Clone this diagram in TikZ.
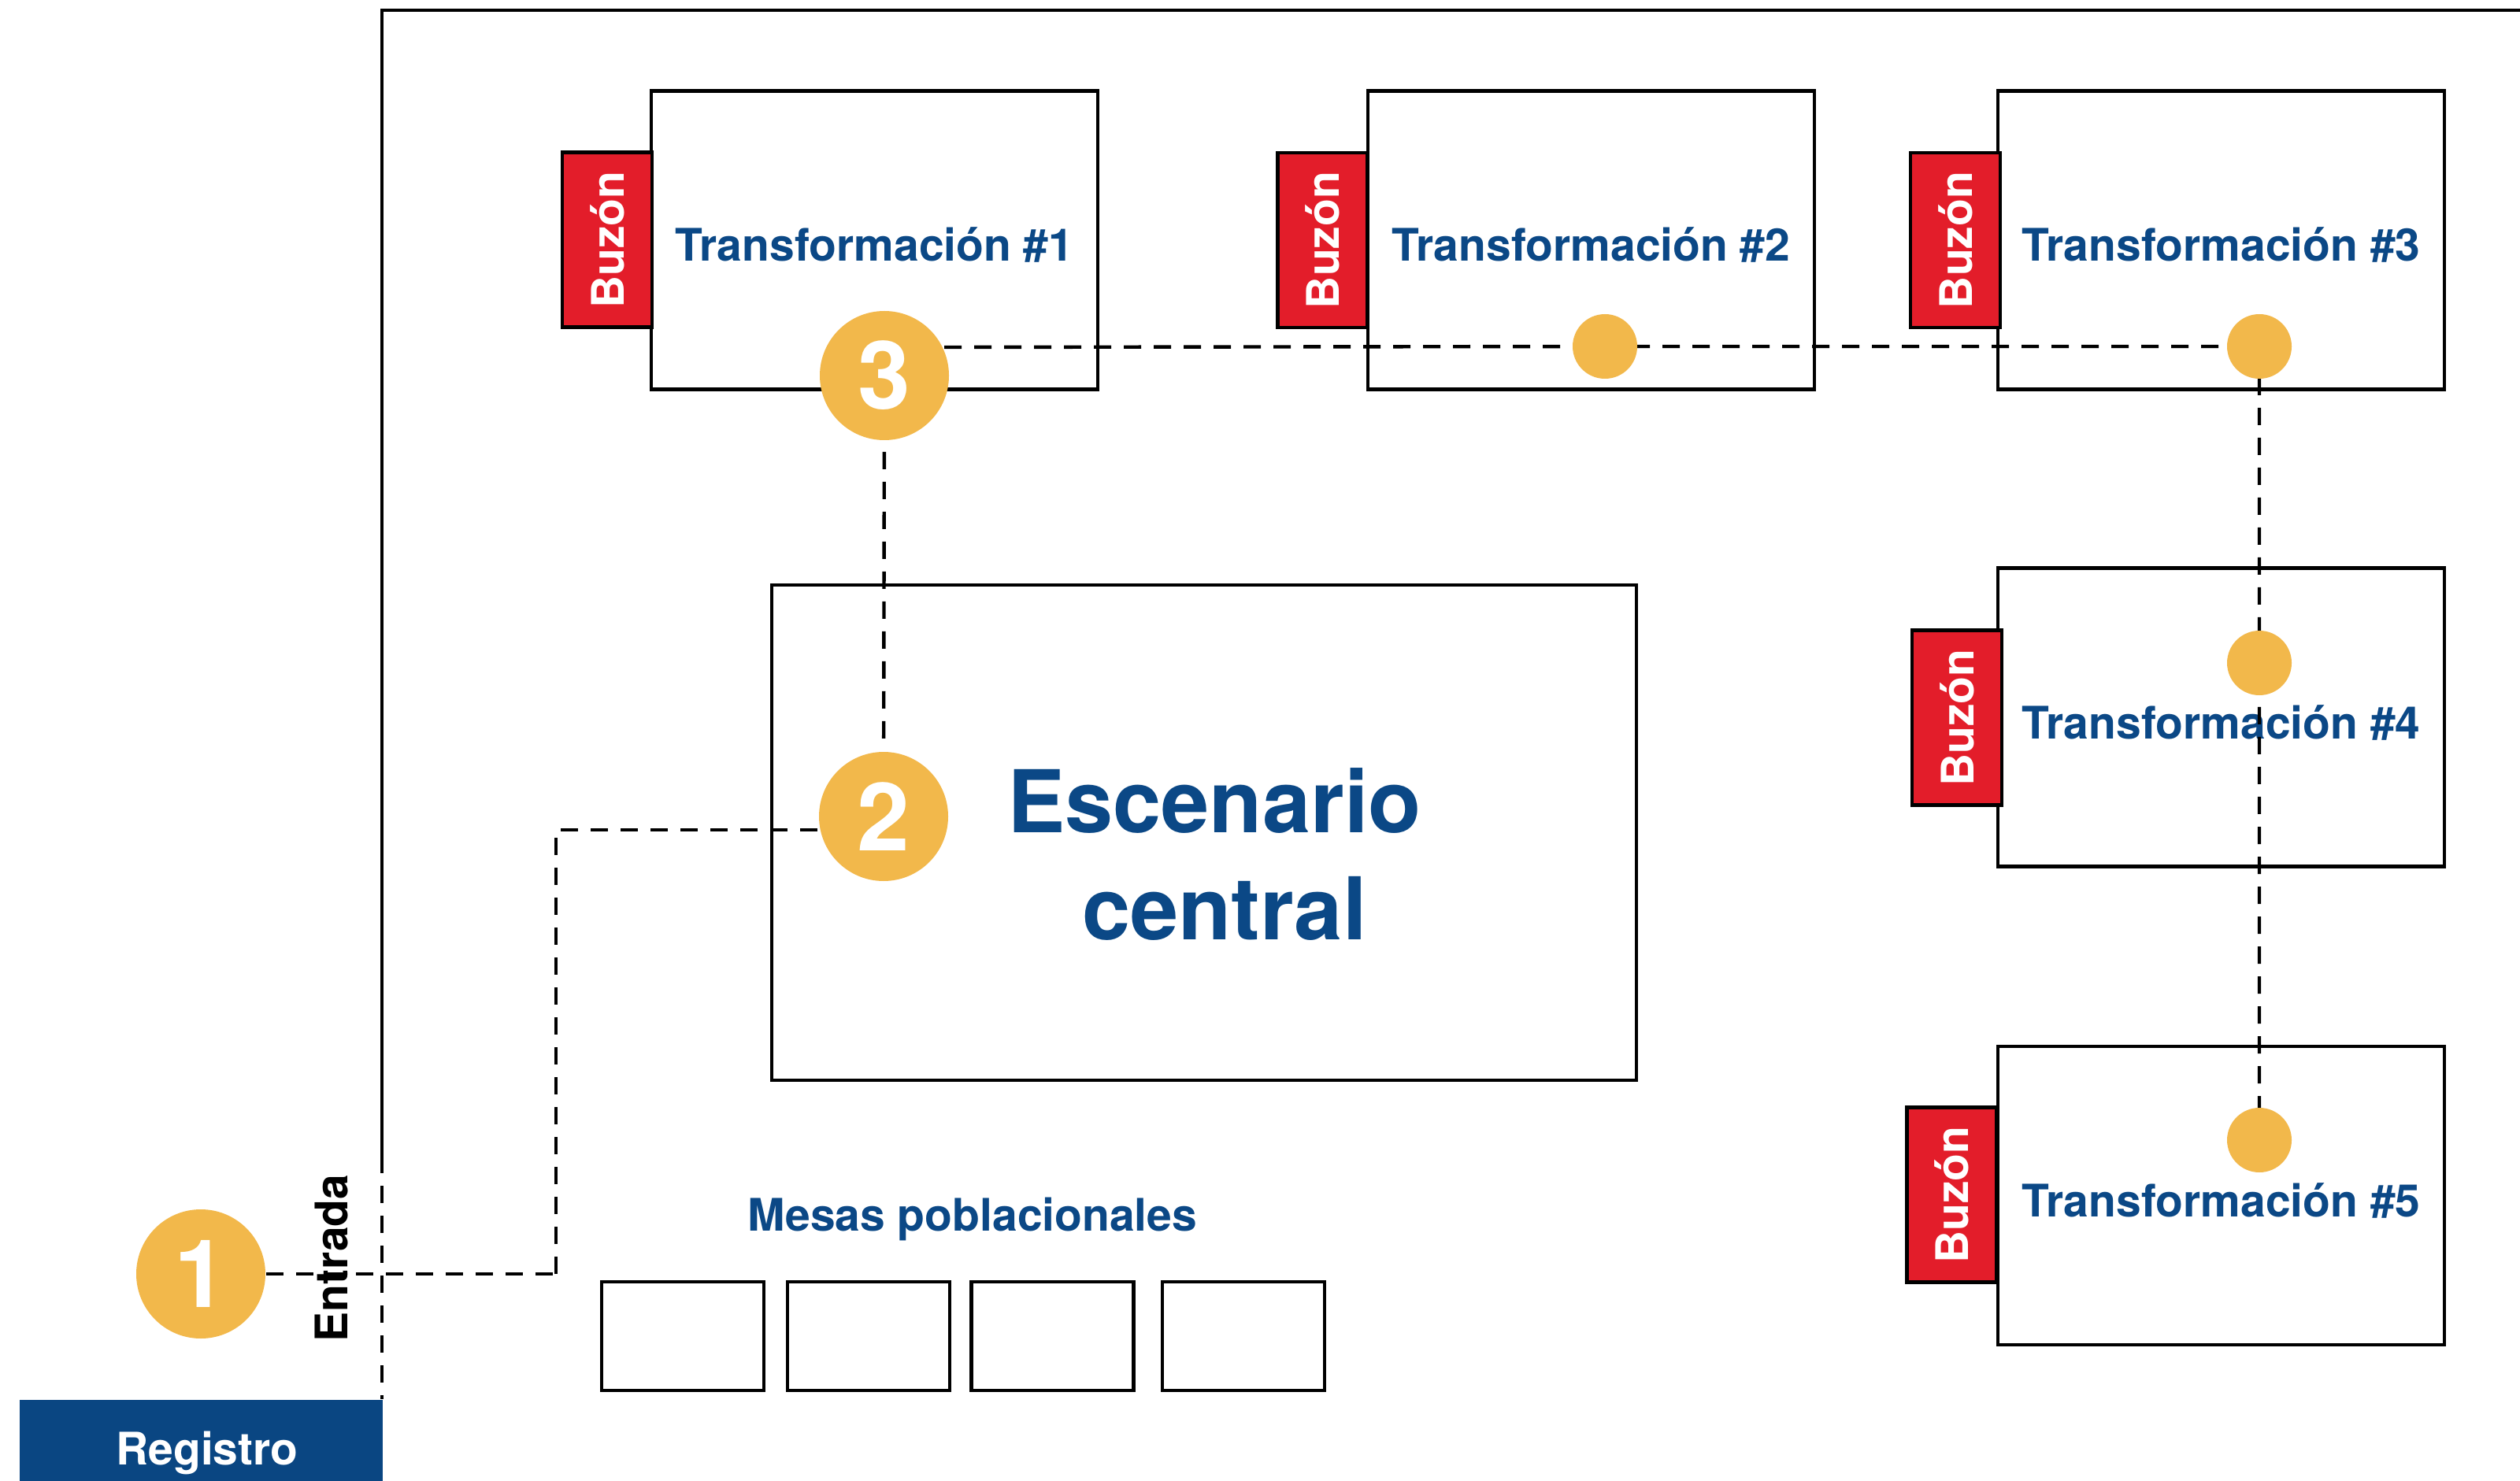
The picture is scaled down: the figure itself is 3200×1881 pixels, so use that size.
\documentclass[tikz,border=0pt]{standalone}
\usepackage{fontspec}
\setmainfont{TeX Gyre Heros}
\usetikzlibrary{calc}
\definecolor{tblue}{HTML}{0B4886}
\definecolor{cyel}{HTML}{F2B84B}
\definecolor{bred}{HTML}{E31D2A}
\definecolor{rblue}{HTML}{0A4682}
\begin{document}
\begin{tikzpicture}[x=0.25pt,y=-0.25pt,
 tbox/.style={draw=black, line width=1.1pt, fill=white, minimum width=141.75pt, minimum height=94.75pt, inner sep=0pt, text height=13.5pt, text depth=0pt, font=\fontsize{14.25}{17}\selectfont\bfseries, text=tblue},
 buzon/.style={draw=black, line width=1.1pt, fill=bred, minimum width=28.5pt, minimum height=55.5pt, inner sep=0pt},
 buztext/.style={rotate=90, text=white, font=\fontsize{14.25}{17}\selectfont\bfseries, inner sep=0pt},
 bignum/.style={circle, fill=cyel, minimum size=41pt, inner sep=0pt, text=white, font=\fontsize{30}{30}\selectfont\bfseries},
 smalldot/.style={circle, fill=cyel, minimum size=20.5pt, inner sep=0pt},
 dashedline/.style={line width=1.1pt, dash pattern=on 5.5pt off 4pt},
 mesa/.style={draw=black, line width=1.1pt, minimum width=51.5pt, minimum height=34.5pt, inner sep=0pt},
 lbl/.style={text=tblue, font=\fontsize{14.25}{17}\selectfont\bfseries, inner sep=0pt},
]
\useasboundingbox (0,0) rectangle (3200,1881);

% outer frame
\coordinate (tr) at (3200,13);
\coordinate (tl) at (485,13);
\coordinate (ds) at (485,1468);
\coordinate (de) at (485,1777);
\draw[line width=1.1pt] (tr) -- (tl) -- (ds);
\draw[dashedline] (ds) -- (de);

% Registro
\node[fill=rblue, minimum width=115.25pt, minimum height=26pt, inner sep=0pt, anchor=north west] (reg) at (24,1777) {};
\node[text=white, font=\fontsize{14.25}{17}\selectfont\bfseries, inner sep=0pt, anchor=base] (regt) at (263,1860) {Registro};

% Entrada
\node[rotate=90, anchor=base, font=\fontsize{14.25}{17}\selectfont\bfseries, inner sep=0pt] (entrada) at (441,1598) {Entrada};

% transformation boxes
\node[tbox] (t1) at (1110.5,305) {Transformación \#1};
\node[tbox] (t2) at (2020.5,305) {Transformación \#2};
\node[tbox] (t3) at (2820.5,305) {Transformación \#3};
\node[tbox] (t4) at (2820.5,911) {Transformación \#4};
\node[tbox] (t5) at (2820.5,1518.5) {Transformación \#5};

% buzones
\node[buzon] (b1) at (771,304.5) {};
\node[buzon] (b2) at (1679.5,305) {};
\node[buzon] (b3) at (2483,305) {};
\node[buzon] (b4) at (2485,911.5) {};
\node[buzon] (b5) at (2478.5,1517.5) {};
\foreach \b in {b1,b2,b3,b4,b5}{
  \node[buztext] at (\b) {Buzón};
}

% escenario central
\node[draw=black, line width=1.1pt, fill=white, minimum width=274.5pt, minimum height=157.25pt, inner sep=0pt] (esc) at (1529,1057.5) {};
\node[anchor=base, text=tblue, font=\fontsize{27.5}{33}\selectfont\bfseries, inner sep=0pt] (esc1) at (1542,1057) {Escenario};
\node[anchor=base, text=tblue, font=\fontsize{27.5}{33}\selectfont\bfseries, inner sep=0pt] (esc2) at (1555,1193) {central};

% mesas poblacionales
\node[lbl, anchor=base] (mesas) at (1235,1563) {Mesas poblacionales};
\node[mesa] (m1) at (867,1697) {};
\node[mesa] (m2) at (1103,1697) {};
\node[mesa] (m3) at (1336.5,1697) {};
\node[mesa] (m4) at (1579,1697) {};

% coordinates for dots
\coordinate (p2) at (2038,440);
\coordinate (p3) at (2869,440);
\coordinate (p4) at (2869,842);
\coordinate (p5) at (2869,1448);
\coordinate (c3r) at (1199,441);
\coordinate (k1) at (706,1618);
\coordinate (k2) at (706,1054);
\coordinate (c2in) at (1100,1054);

% dashed connectors (below circles)
\draw[dashedline] (c3r) -- (p2) -- (p3) -- (p4) -- (p5);
\draw[dashedline] (k1) -- (k2) -- (c2in);

% big numbered circles
\node[bignum] (c1) at (255,1618) {1};
\node[bignum] (c2) at (1122,1037) {2};
\node[bignum] (c3) at (1123,477) {3};

% small dots
\node[smalldot] (d2) at (p2) {};
\node[smalldot] (d3) at (p3) {};
\node[smalldot] (d4) at (p4) {};
\node[smalldot] (d5) at (p5) {};

\draw[dashedline] (c1) -- (k1);
\draw[dashedline, shorten <=3.5pt, shorten >=3.5pt] (c3) -- (c2);
\end{tikzpicture}
\end{document}
